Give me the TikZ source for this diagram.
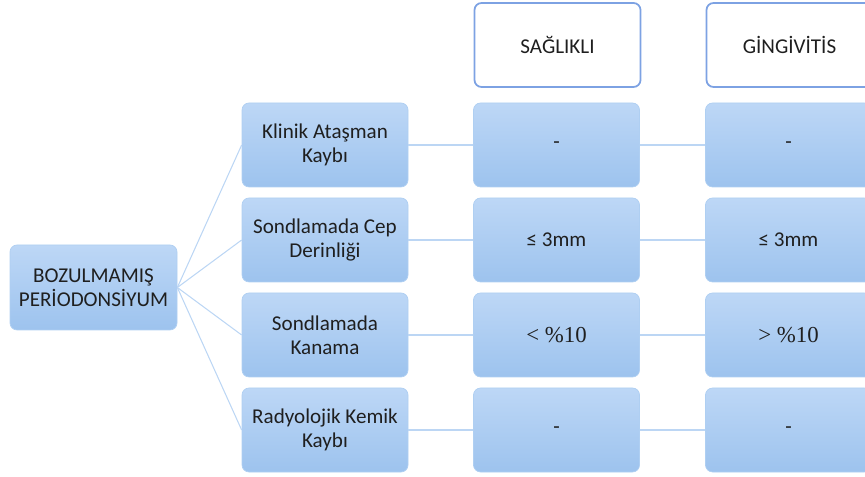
\documentclass[tikz,border=0pt]{standalone}
\usepackage{fontspec}
\setmainfont{Carlito}
\newfontfamily\serifnum{Liberation Serif}
\usepackage{tikz}

\definecolor{boxtop}{HTML}{BDD7F6}
\definecolor{boxbot}{HTML}{9DC3EE}
\definecolor{boxline}{HTML}{AFCFF2}
\definecolor{headline}{HTML}{7DA2E3}
\definecolor{linkline}{HTML}{BCD6F4}
\definecolor{txt}{HTML}{1F1F1F}

\begin{document}
\begin{tikzpicture}[
        card/.style={rounded corners=4pt, draw=boxline, line width=0.4pt,
            top color=boxtop, bottom color=boxbot,
            minimum width=3.32cm, minimum height=1.68cm,
            align=center, text=txt, font=\fontsize{12}{13.8}\selectfont},
        headcard/.style={card, top color=white, bottom color=white,
            draw=headline, line width=1pt},
        link/.style={draw=linkline, line width=0.6pt}
    ]
        \useasboundingbox (0, 0) rectangle (17.3, -9.54);
        % root
        \node [card, minimum width=3.34cm, minimum height=1.7cm] (root) at (1.87, -5.75) {BOZULMAMIŞ\\PERİODONSİYUM};
        % headers
        \node [headcard] (healthy) at (11.15, -0.9) {SAĞLIKLI};
        \node [headcard] (gingiv) at (15.79, -0.9) {GİNGİVİTİS};
        % criteria
        \node [card] (cal) at (6.5, -2.9) {Klinik Ataşman\\Kaybı};
        \node [card] (ppd) at (6.5, -4.8) {Sondlamada Cep\\Derinliği};
        \node [card] (bop) at (6.5, -6.7) {Sondlamada\\Kanama};
        \node [card] (rbl) at (6.5, -8.6) {Radyolojik Kemik\\Kaybı};
        % healthy column
        \node [card] (calh) at (11.13, -2.9) {-};
        \node [card] (ppdh) at (11.13, -4.8) {≤ 3mm};
        \node [card] (boph) at (11.13, -6.7) {\serifnum\fontsize{13}{15}\selectfont < \%10};
        \node [card] (rblh) at (11.13, -8.6) {-};
        % gingivitis column
        \node [card] (calg) at (15.77, -2.9) {-};
        \node [card] (ppdg) at (15.77, -4.8) {≤ 3mm};
        \node [card] (bopg) at (15.77, -6.7) {\serifnum\fontsize{13}{15}\selectfont > \%10};
        \node [card] (rblg) at (15.77, -8.6) {-};
        % connectors
        \draw [link] (root.east) -- (cal.west);
        \draw [link] (root.east) -- (ppd.west);
        \draw [link] (root.east) -- (bop.west);
        \draw [link] (root.east) -- (rbl.west);
        \draw [link] (cal) -- (calh) (calh) -- (calg);
        \draw [link] (ppd) -- (ppdh) (ppdh) -- (ppdg);
        \draw [link] (bop) -- (boph) (boph) -- (bopg);
        \draw [link] (rbl) -- (rblh) (rblh) -- (rblg);
    \end{tikzpicture}
\end{document}
